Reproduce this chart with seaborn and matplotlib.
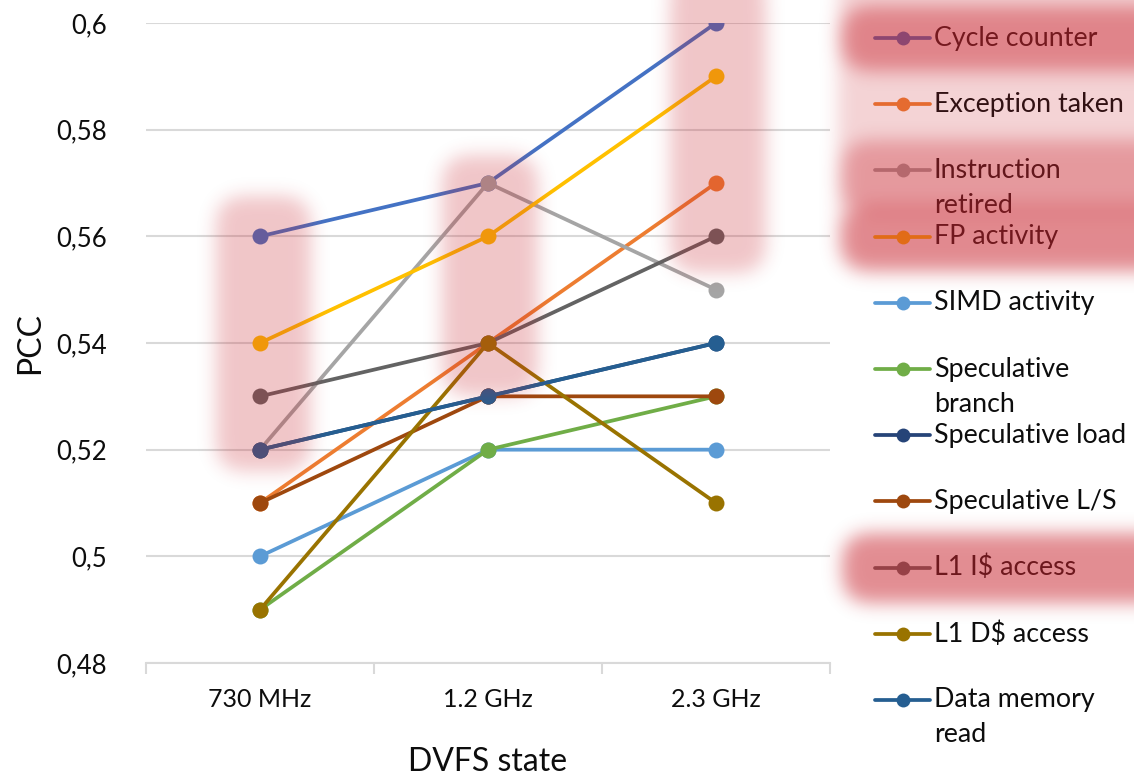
import numpy as np
import pandas as pd
import matplotlib
matplotlib.use("Agg")
import matplotlib.pyplot as plt
import seaborn as sns

# data
states = ["730 MHz", "1.2 GHz", "2.3 GHz"]
series = ["Cycle counter", "Exception taken", "Instruction retired", "FP activity",
          "SIMD activity", "Speculative branch", "Speculative load", "Speculative L/S",
          "L1 I$ access", "L1 D$ access", "Data memory read"]
legend_labels = ["Cycle counter", "Exception taken", "Instruction\nretired", "FP activity",
                 "SIMD activity", "Speculative\nbranch", "Speculative load", "Speculative L/S",
                 "L1 I$ access", "L1 D$ access", "Data memory\nread"]
cycle_counter = [0.56, 0.57, 0.60]
exception_taken = [0.51, 0.54, 0.57]
instruction_retired = [0.52, 0.57, 0.55]
fp_activity = [0.54, 0.56, 0.59]
simd_activity = [0.50, 0.52, 0.52]
spec_branch = [0.49, 0.52, 0.53]
spec_load = [0.52, 0.53, 0.54]
spec_ls = [0.51, 0.53, 0.53]
l1i_access = [0.53, 0.54, 0.56]
l1d_access = [0.49, 0.54, 0.51]
data_mem_read = [0.52, 0.53, 0.54]
values = [cycle_counter, exception_taken, instruction_retired, fp_activity, simd_activity,
          spec_branch, spec_load, spec_ls, l1i_access, l1d_access, data_mem_read]
colors = ["#4472C4", "#ED7D31", "#A5A5A5", "#FFC000", "#5B9BD5", "#70AD47",
          "#264478", "#9E480E", "#636363", "#997300", "#255E91"]

df = pd.DataFrame([(s, st, v) for s, vals in zip(series, values) for st, v in zip(states, vals)],
                  columns=["series", "state", "pcc"])

sns.set_theme(style="white")
plt.rcParams["font.family"] = ["Lato", "DejaVu Sans"]

W, H = 1134, 778
fig = plt.figure(figsize=(W / 100, H / 100), dpi=100)
ax = fig.add_axes([146 / W, 1 - 663 / H, (830 - 146) / W, (663 - 23) / H])

grid_c = "#D9D9D9"
txt_c = "#0d0d0d"
for s, c in zip(series, colors):
    sns.lineplot(data=df[df["series"] == s], x="state", y="pcc", color=c, marker="o",
                 markersize=11.5, markeredgewidth=0, linewidth=2.7, sort=False, ax=ax, zorder=3)

ax.set_xlim(-0.5, 2.5)
ax.set_ylim(0.48, 0.60)
ax.set_yticks(np.arange(0.48, 0.6001, 0.02))
ax.yaxis.set_major_formatter(matplotlib.ticker.FuncFormatter(lambda v, p: f"{round(v, 2):g}".replace(".", ",")))
ax.grid(axis="y", color=grid_c, linewidth=1.5)
ax.set_axisbelow(True)
for sp in ["left", "right", "top"]:
    ax.spines[sp].set_visible(False)
ax.spines["bottom"].set_color(grid_c)
ax.spines["bottom"].set_linewidth(1.5)
ax.set_xticks([-0.5, 0.5, 1.5, 2.5], minor=True)
ax.tick_params(axis="x", which="minor", length=8, width=1.5, color=grid_c, direction="out", bottom=True)
ax.tick_params(axis="x", which="major", length=0, labelsize=18, pad=18, colors=txt_c)
ax.tick_params(axis="y", length=0, labelsize=18.5, pad=28, colors=txt_c)
ax.set_xlabel("DVFS state", fontsize=23, labelpad=26, color=txt_c)
ax.set_ylabel("")
fig.text(30 / W, 1 - 343 / H, "PCC", rotation=90, ha="center", va="center", fontsize=23, color=txt_c)

# legend drawn by hand in pixel space
lax = fig.add_axes([830 / W, 0, (W - 830) / W, 1])
lax.set_xlim(830, W)
lax.set_ylim(H, 0)
lax.axis("off")
for i, (lab, c) in enumerate(zip(legend_labels, colors)):
    y = 38 + 66.2 * i
    lax.plot([875, 930], [y, y], color=c, linewidth=2.7)
    lax.plot([902.5], [y], color=c, marker="o", markersize=10, markeredgewidth=0)
    for j, ln in enumerate(lab.split("\n")):
        lax.text(934, y + 35 * j, ln, fontsize=19.3, va="center", ha="left", color=txt_c)

# blurred red highlights over the chart
boxes = [  # x0, y0, x1, y1, alpha (pixels)
    (216, 196, 310, 470, 0.26),
    (442, 155, 537, 395, 0.26),
    (670, -20, 765, 272, 0.26),
    (838, -20, 1170, 272, 0.20),
    (842, 6, 1170, 70, 0.45),
    (842, 140, 1170, 212, 0.33),
    (842, 205, 1170, 268, 0.42),
    (842, 533, 1170, 602, 0.52),
]
yy, xx = np.mgrid[0:H, 0:W]
sig = 9
k = np.arange(-3 * sig, 3 * sig + 1)
kern = np.exp(-k ** 2 / (2 * sig ** 2))
kern /= kern.sum()
alpha = np.zeros((H, W))
for x0, y0, x1, y1, a in boxes:
    r = 24
    cx = np.clip(xx, x0 + r, x1 - r)
    cy = np.clip(yy, y0 + r, y1 - r)
    m = (((xx - cx) ** 2 + (yy - cy) ** 2) <= r ** 2).astype(float)
    pad = np.pad(m, ((0, 0), (len(k) // 2, len(k) // 2)), mode="edge")
    m = sum(kern[i] * pad[:, i:i + W] for i in range(len(k)))
    pad = np.pad(m, ((len(k) // 2, len(k) // 2), (0, 0)), mode="edge")
    m = sum(kern[i] * pad[i:i + H, :] for i in range(len(k)))
    alpha = 1 - (1 - alpha) * (1 - a * m)
rgba = np.zeros((H, W, 4))
rgba[..., 0] = 200 / 255
rgba[..., 1] = 35 / 255
rgba[..., 2] = 45 / 255
rgba[..., 3] = alpha
oax = fig.add_axes([0, 0, 1, 1], zorder=10)
oax.imshow(rgba, extent=(0, W, H, 0), aspect="auto", interpolation="nearest")
oax.set_xlim(0, W)
oax.set_ylim(H, 0)
oax.axis("off")

fig.savefig("out.png", dpi=100)
